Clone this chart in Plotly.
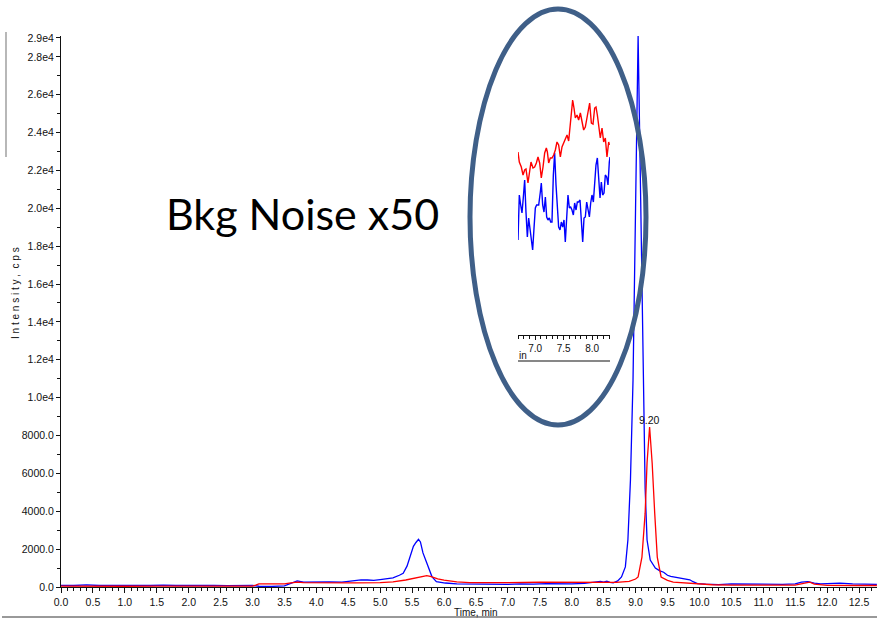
import plotly.graph_objects as go

# ---------------- main chromatogram data ----------------
blue_t = [0.0, 0.2, 0.4, 0.6, 0.8, 1.0, 1.2, 1.4, 1.6, 1.8, 2.0, 2.2, 2.4, 2.6, 2.8, 3.0,
          3.1, 3.3, 3.5, 3.6, 3.7, 3.8, 3.9, 4.0, 4.2, 4.4, 4.5, 4.6, 4.7, 4.8, 4.9, 5.0,
          5.1, 5.2, 5.3, 5.36, 5.42, 5.47, 5.52, 5.56, 5.6, 5.63, 5.67, 5.73, 5.77, 5.81,
          5.88, 5.95, 6.02, 6.2, 6.4, 6.6, 6.8, 7.0, 7.2, 7.4, 7.6, 7.8, 8.0, 8.2, 8.35,
          8.45, 8.5, 8.55, 8.6, 8.65, 8.72, 8.78, 8.84, 8.88, 8.92, 8.96, 9.0, 9.04, 9.08,
          9.12, 9.15, 9.18, 9.23, 9.31, 9.38, 9.44, 9.5, 9.55, 9.62, 9.7, 9.78, 9.85, 9.9,
          9.97, 10.1, 10.3, 10.5, 10.7, 10.9, 11.1, 11.3, 11.5, 11.6, 11.7, 11.8, 11.9,
          12.0, 12.2, 12.4, 12.6, 12.78]
blue_i = [90, 80, 110, 80, 90, 70, 90, 80, 100, 80, 90, 100, 80, 70, 90, 80,
          40, 30, 60, 200, 320, 260, 270, 250, 270, 260, 300, 330, 380, 370, 350, 390,
          420, 480, 620, 720, 1100, 1690, 2150, 2350, 2520, 2380, 1800, 1270, 900, 550,
          280, 230, 210, 170, 160, 150, 170, 140, 160, 150, 180, 160, 170, 190, 240,
          300, 260, 310, 250, 220, 320, 530, 1060, 2480, 5650, 10900, 20000, 29100, 20500,
          10900, 5200, 2480, 1420, 1000, 850, 780, 620, 560, 520, 480, 420, 380, 280,
          180, 150, 130, 160, 150, 170, 150, 140, 170, 260, 280, 200, 170,
          180, 200, 160, 150, 140]

red_t = [0.0, 0.3, 0.6, 1.0, 1.5, 2.0, 2.5, 3.0, 3.05, 3.1, 3.2, 3.4, 3.5, 3.6, 3.7, 3.8,
         4.0, 4.3, 4.6, 5.0, 5.2, 5.4, 5.55, 5.65, 5.73, 5.8, 5.9, 6.0, 6.2, 6.4, 6.6, 7.0,
         7.5, 8.0, 8.5, 8.7, 8.9, 9.0, 9.04, 9.1, 9.15, 9.18, 9.22, 9.26, 9.3, 9.34, 9.4,
         9.5, 9.59, 9.8, 9.96, 10.2, 10.5, 11.0, 11.5, 11.65, 11.73, 11.8, 12.0, 12.5, 12.78]
red_i = [50, 40, 50, 40, 50, 40, 45, 50, 100, 170, 160, 150, 170, 220, 260, 230,
         220, 210, 220, 230, 270, 370, 460, 530, 600, 550, 430, 360, 270, 230, 220, 230,
         250, 240, 230, 240, 300, 420, 530, 1580, 3900, 6550, 8450, 6550, 3900, 1580, 530,
         350, 260, 200, 160, 120, 100, 90, 100, 200, 260, 150, 90, 80, 80]

# ---------------- inset (background noise x50) data ----------------
inset_red_t = [6.700, 6.723, 6.758, 6.788, 6.817, 6.840, 6.875, 6.899, 6.928, 6.963, 6.992,
               7.022, 7.051, 7.080, 7.109, 7.139, 7.168, 7.197, 7.215, 7.238, 7.267, 7.296,
               7.326, 7.355, 7.384, 7.413, 7.443, 7.472, 7.501, 7.530, 7.560, 7.589, 7.618,
               7.636, 7.659, 7.682, 7.706, 7.735, 7.764, 7.794, 7.823, 7.852, 7.881, 7.911,
               7.940, 7.957, 7.987, 8.016, 8.045, 8.068, 8.092, 8.115, 8.144, 8.174, 8.203,
               8.232, 8.261, 8.291, 8.302]
inset_red_v = [111, 101, 96, 88, 93, 94, 80, 88, 101, 95, 96,
               100, 106, 100, 85, 96, 110, 115, 111, 100, 105, 105,
               108, 113, 121, 118, 106, 116, 120, 123, 128, 122, 138,
               153, 163, 155, 145, 148, 143, 150, 140, 133, 136, 146,
               155, 160, 140, 139, 155, 156, 148, 135, 125, 135, 121,
               125, 106, 121, 118]

inset_blue_t = [6.700, 6.723, 6.747, 6.770, 6.794, 6.817, 6.840, 6.864, 6.887, 6.911, 6.934,
                6.957, 6.981, 7.004, 7.027, 7.063, 7.092, 7.109, 7.133, 7.156, 7.180, 7.203,
                7.226, 7.250, 7.273, 7.296, 7.320, 7.343, 7.367, 7.390, 7.413, 7.437, 7.460,
                7.484, 7.507, 7.530, 7.554, 7.577, 7.601, 7.624, 7.647, 7.671, 7.694, 7.718,
                7.741, 7.764, 7.788, 7.811, 7.835, 7.858, 7.881, 7.905, 7.928, 7.952, 7.975,
                7.998, 8.022, 8.045, 8.068, 8.092, 8.115, 8.139, 8.162, 8.185, 8.209, 8.232,
                8.256, 8.279, 8.302, 8.314]
inset_blue_v = [23, 68, 58, 50, 66, 83, 51, 26, 45, 35, 21,
                13, 35, 55, 58, 58, 71, 80, 58, 51, 66, 46,
                43, 45, 41, 41, 88, 110, 78, 55, 36, 33, 41,
                36, 43, 21, 48, 68, 55, 56, 53, 48, 60, 53,
                61, 61, 63, 45, 21, 45, 46, 61, 55, 46, 60,
                68, 61, 85, 98, 105, 88, 65, 81, 68, 70, 88,
                86, 78, 101, 106]

y_tick_vals = [0, 2000, 4000, 6000, 8000, 10000, 12000, 14000, 16000, 18000, 20000,
               22000, 24000, 26000, 28000, 29000]
y_tick_text = ["0.0", "2000.0", "4000.0", "6000.0", "8000.0", "1.0e4", "1.2e4", "1.4e4",
               "1.6e4", "1.8e4", "2.0e4", "2.2e4", "2.4e4", "2.6e4", "2.8e4", "2.9e4"]
x_tick_vals = [i * 0.5 for i in range(26)]
x_tick_text = ["%.1f" % v for v in x_tick_vals]
inset_tick_vals = [7.0, 7.5, 8.0]
inset_tick_text = ["7.0", "7.5", "8.0"]

peak_label = "9.20"
peak_label_t = 9.22
peak_label_i = 8820
marker_t = [-0.06]
marker_i = [1430]

# ---------------- layout geometry (pixels) ----------------
W, H = 877, 620
L, R, T, B = 61, 0, 36, 33
PW, PH = W - L - R, H - T - B


def px(x):
    return (x - L) / PW


def py(y):
    return (H - B - y) / PH


TICK_FONT = dict(family="Liberation Sans, Arial", size=10.5, color="#111111")

fig = go.Figure()

fig.add_trace(go.Scatter(x=blue_t, y=blue_i, mode="lines",
                         line=dict(color="#0000ff", width=1.3), hoverinfo="skip"))
fig.add_trace(go.Scatter(x=red_t, y=red_i, mode="lines",
                         line=dict(color="#ff0000", width=1.3), hoverinfo="skip"))
fig.add_trace(go.Scatter(x=marker_t, y=marker_i, mode="markers", cliponaxis=False,
                         marker=dict(symbol="triangle-right", size=9, color="#1c1ca8"),
                         hoverinfo="skip"))

fig.add_trace(go.Scatter(x=inset_blue_t, y=inset_blue_v, mode="lines", xaxis="x2",
                         yaxis="y2", line=dict(color="#0000ff", width=1.4), hoverinfo="skip"))
fig.add_trace(go.Scatter(x=inset_red_t, y=inset_red_v, mode="lines", xaxis="x2",
                         yaxis="y2", line=dict(color="#ff0000", width=1.4), hoverinfo="skip"))

fig.update_layout(
    width=W, height=H,
    margin=dict(l=L, r=R, t=T, b=B, autoexpand=False),
    paper_bgcolor="white", plot_bgcolor="white",
    showlegend=False,
    xaxis=dict(range=[0, PW / 63.84], tickmode="array", tickvals=x_tick_vals,
               ticktext=x_tick_text, ticks="outside", ticklen=5, tickcolor="#111",
               tickwidth=1, showline=True, linecolor="#111", linewidth=1,
               showgrid=False, zeroline=False, tickfont=TICK_FONT, automargin=False,
               minor=dict(tickmode="linear", tick0=0, dtick=0.1, ticks="outside",
                          ticklen=3, tickcolor="#111", showgrid=False)),
    yaxis=dict(range=[0, PH / 0.018935], tickmode="array", tickvals=y_tick_vals,
               ticktext=y_tick_text, ticks="outside", ticklen=4, tickcolor="#111",
               tickwidth=1, showline=True, linecolor="#111", linewidth=1,
               showgrid=False, zeroline=False, tickfont=TICK_FONT, automargin=False,
               minor=dict(tickmode="linear", tick0=0, dtick=1000, ticks="outside",
                          ticklen=3, tickcolor="#111", showgrid=False)),
    xaxis2=dict(domain=[px(518), px(610)], range=[6.70, 8.314], anchor="free",
                position=py(335), tickmode="array", tickvals=inset_tick_vals,
                ticktext=inset_tick_text, ticks="outside", ticklen=4, tickcolor="#111",
                showline=True, linecolor="#111", linewidth=1, showgrid=False,
                zeroline=False, tickfont=dict(TICK_FONT, size=10), automargin=False,
                minor=dict(tickmode="linear", tick0=6.7, dtick=0.1, ticks="outside",
                           ticklen=3, tickcolor="#111", showgrid=False)),
    yaxis2=dict(domain=[py(263), py(95)], range=[0, 168], anchor="x2", visible=False),
)

shapes = [
    # highlight ellipse
    dict(type="circle", xref="paper", yref="paper", x0=px(470), x1=px(646),
         y0=py(9), y1=py(425), line=dict(color="#3f5f88", width=5)),
    # inset bottom rule
    dict(type="line", xref="paper", yref="paper", x0=px(518), x1=px(610),
         y0=py(361), y1=py(361), line=dict(color="#111", width=1.2)),
    # bottom gray rule
    dict(type="line", xref="paper", yref="paper", x0=px(2), x1=px(877),
         y0=py(617), y1=py(617), line=dict(color="#777", width=1.5)),
    # top-left gray rule
    dict(type="line", xref="paper", yref="paper", x0=px(6), x1=px(6),
         y0=py(32), y1=py(157), line=dict(color="#888", width=1.2)),
]
fig.update_layout(shapes=shapes)

annotations = [
    dict(text="Bkg Noise x50", xref="paper", yref="paper", x=px(302), y=py(213),
         xanchor="center", yanchor="middle", showarrow=False,
         font=dict(family="Lato, Carlito, Calibri, sans-serif", size=43, color="#000")),
    dict(text="I n t e n s i t y ,  c p s", xref="paper", yref="paper", x=px(15),
         y=py(293), textangle=-90, xanchor="center", yanchor="middle", showarrow=False,
         font=dict(family="Liberation Sans, Arial", size=10, color="#111")),
    dict(text="Time, min", xref="paper", yref="paper", x=px(476), y=py(612),
         xanchor="center", yanchor="middle", showarrow=False,
         font=dict(TICK_FONT, size=10)),
    dict(text="in", xref="paper", yref="paper", x=px(517), y=py(355),
         xanchor="left", yanchor="middle", showarrow=False,
         font=dict(TICK_FONT, size=10)),
    dict(text=peak_label, x=peak_label_t, y=peak_label_i, xref="x", yref="y",
         xanchor="center", yanchor="middle", showarrow=False,
         font=dict(TICK_FONT, size=10.5)),
]
fig.update_layout(annotations=annotations)

fig.write_html("out.html", config={"displayModeBar": False},
               post_script="document.body.style.margin='0px';"
                           "document.body.style.overflow='hidden';")
